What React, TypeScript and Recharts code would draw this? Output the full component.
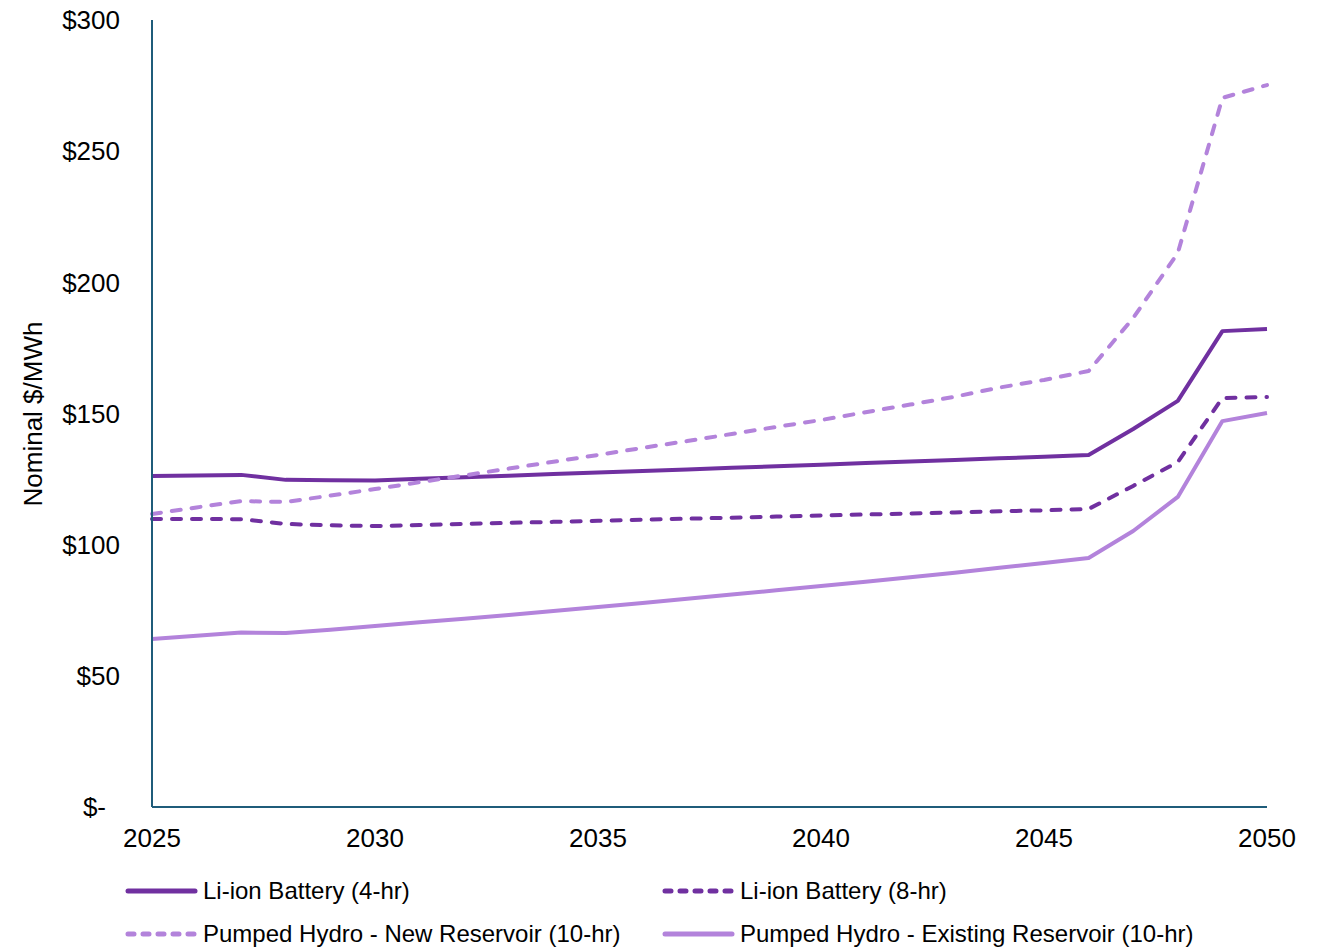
import React from 'react';
import { LineChart, Line, XAxis, YAxis } from 'recharts';

const years = [2025, 2026, 2027, 2028, 2029, 2030, 2031, 2032, 2033, 2034, 2035, 2036, 2037, 2038, 2039, 2040, 2041, 2042, 2043, 2044, 2045, 2046, 2047, 2048, 2049, 2050];

const liIon4 = [126.2, 126.4, 126.6, 124.7, 124.6, 124.5, 125.1, 125.7, 126.3, 126.9, 127.5, 128.1, 128.7, 129.3, 129.9, 130.5, 131.1, 131.7, 132.3, 132.9, 133.5, 134.2, 144.1, 154.8, 181.4, 182.2];
const liIon8 = [109.8, 109.8, 109.7, 107.9, 107.4, 107.1, 107.5, 107.9, 108.3, 108.7, 109.1, 109.5, 109.9, 110.3, 110.7, 111.1, 111.5, 111.9, 112.3, 112.7, 113.1, 113.6, 122.4, 131.5, 155.9, 156.3];
const phNew = [111.7, 114.2, 116.6, 116.3, 118.7, 121.2, 123.8, 126.4, 129.0, 131.6, 134.2, 136.9, 139.5, 142.2, 144.9, 147.5, 150.5, 153.4, 156.4, 159.9, 162.8, 166.2, 186.4, 211.2, 270.3, 275.2];
const phExisting = [64.0, 65.3, 66.5, 66.3, 67.6, 69.0, 70.4, 71.8, 73.2, 74.7, 76.2, 77.8, 79.4, 81.0, 82.6, 84.2, 85.9, 87.6, 89.3, 91.2, 93.0, 94.9, 105.2, 118.2, 147.1, 150.2];

const xTicks = [2025, 2030, 2035, 2040, 2045, 2050];
const yTicks = [0, 50, 100, 150, 200, 250, 300];

const seriesNames = [
  'Li-ion Battery (4-hr)',
  'Li-ion Battery (8-hr)',
  'Pumped Hydro - New Reservoir (10-hr)',
  'Pumped Hydro - Existing Reservoir (10-hr)',
];

const data = years.map((year, i) => ({
  year,
  li4: liIon4[i],
  li8: liIon8[i],
  phNew: phNew[i],
  phEx: phExisting[i],
}));

const DARK = '#7030a0';
const LIGHT = '#b383db';
const AXIS = '#1f5c7a';
const FONT = '"Liberation Sans", Arial, sans-serif';

const YTick = (props: any) => {
  const { x, y, payload } = props;
  const v = payload.value;
  const label = v === 0 ? '$-' : `$${v}`;
  return (
    <text x={x - (v === 0 ? 14 : 0)} y={y} dy="0.355em" textAnchor="end" fontSize={26} fill="#000" fontFamily={FONT}>
      {label}
    </text>
  );
};

const legendItems = [
  { name: seriesNames[0], color: DARK, dash: undefined as string | undefined, left: 125, top: 891 },
  { name: seriesNames[1], color: DARK, dash: '6 9', left: 662, top: 891 },
  { name: seriesNames[2], color: LIGHT, dash: '6 9', left: 125, top: 934 },
  { name: seriesNames[3], color: LIGHT, dash: undefined as string | undefined, left: 662, top: 934 },
];

export default function App() {
  return (
    <div style={{ position: 'absolute', left: 0, top: 0, width: 1322, height: 947, background: '#fff', fontFamily: FONT }}>
      <LineChart width={1322} height={947} data={data} margin={{ top: 20, right: 55, left: 0, bottom: 100 }}>
        <XAxis
          dataKey="year"
          type="number"
          domain={[2025, 2050]}
          ticks={xTicks}
          height={40}
          axisLine={{ stroke: AXIS, strokeWidth: 2 }}
          tickLine={false}
          tickSize={0}
          tickMargin={22}
          tick={{ fontSize: 26, fill: '#000', fontFamily: FONT }}
        />
        <YAxis
          type="number"
          domain={[0, 300]}
          ticks={yTicks}
          width={152}
          axisLine={{ stroke: AXIS, strokeWidth: 2 }}
          tickLine={false}
          tickSize={0}
          tickMargin={32}
          tick={<YTick />}
          label={{
            value: 'Nominal $/MWh',
            content: () => (
              <text transform="translate(33,414) rotate(-90)" textAnchor="middle" dominantBaseline="central" fontSize={26} fill="#000" fontFamily={FONT}>
                Nominal $/MWh
              </text>
            ),
          }}
        />
        <Line dataKey="li4" name={seriesNames[0]} stroke={DARK} strokeWidth={4} dot={false} isAnimationActive={false} strokeLinejoin="round" />
        <Line dataKey="li8" name={seriesNames[1]} stroke={DARK} strokeWidth={4} strokeDasharray="9 11" strokeLinecap="round" dot={false} isAnimationActive={false} strokeLinejoin="round" />
        <Line dataKey="phNew" name={seriesNames[2]} stroke={LIGHT} strokeWidth={4} strokeDasharray="9 11" strokeLinecap="round" dot={false} isAnimationActive={false} strokeLinejoin="round" />
        <Line dataKey="phEx" name={seriesNames[3]} stroke={LIGHT} strokeWidth={4} dot={false} isAnimationActive={false} strokeLinejoin="round" />
      </LineChart>
      {legendItems.map((it) => (
        <div key={it.name} style={{ position: 'absolute', left: it.left, top: it.top - 15, height: 30, display: 'flex', alignItems: 'center', whiteSpace: 'nowrap' }}>
          <svg width={74} height={30} style={{ display: 'block' }}>
            <line x1={3} y1={15} x2={70} y2={15} stroke={it.color} strokeWidth={5} strokeDasharray={it.dash} strokeLinecap="round" />
          </svg>
          <span style={{ fontSize: 24, color: '#000', marginLeft: 4 }}>{it.name}</span>
        </div>
      ))}
    </div>
  );
}
